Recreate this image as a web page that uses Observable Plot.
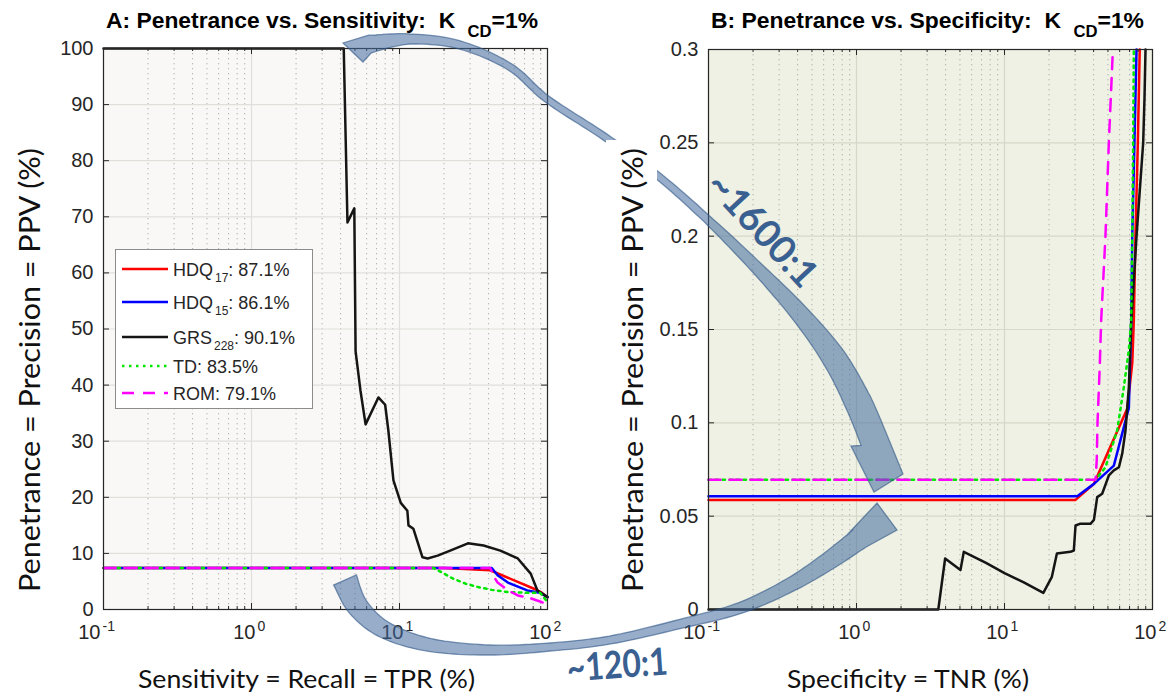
<!DOCTYPE html>
<html>
<head>
<meta charset="utf-8">
<script src="https://cdn.jsdelivr.net/npm/d3@7"></script>
<script src="https://cdn.jsdelivr.net/npm/@observablehq/plot@0.6"></script>
<style>
  body { margin: 0; background: #fff; }
  #wrap { position: relative; width: 1172px; height: 700px; overflow: hidden; background: #fff; }
</style>
</head>
<body>
<div id="wrap"></div>
<script>
// ---------------- DATA ----------------
const seriesBase  = ["HDQ", "HDQ", "GRS", "TD", "ROM"];
const seriesSub   = ["17", "15", "228", "", ""];
const seriesScore = ["87.1%", "86.1%", "90.1%", "83.5%", "79.1%"];

const xTicks   = [0.1, 1, 10, 100];
const xTickExp = ["-1", "0", "1", "2"];
const yTicksA  = [0, 10, 20, 30, 40, 50, 60, 70, 80, 90, 100];
const yTicksB  = [0, 0.05, 0.1, 0.15, 0.2, 0.25, 0.3];

// Panel A: Sensitivity (TPR %) vs PPV (%)
const a_tpr_HDQ17 = [0.1, 20, 41, 81, 90, 100];
const a_ppv_HDQ17 = [7.4, 7.4, 7.0, 3.7, 3.1, 2.2];
const a_tpr_HDQ15 = [0.1, 42, 46, 54, 73, 89, 100];
const a_ppv_HDQ15 = [7.4, 7.4, 6.1, 4.8, 3.4, 3.0, 2.2];
const a_tpr_GRS228 = [0.1, 4.2, 4.45, 4.95, 5.05, 5.45, 5.9, 7.2, 8.0, 8.4, 9.1, 10.2, 11.3, 11.5, 12.4, 14.3, 15.5, 18.1, 22, 29, 37, 48, 63, 77, 85.5, 100];
const a_ppv_GRS228 = [100, 100, 69, 71.5, 46, 39, 33, 37.8, 36.5, 32, 23, 19, 17.6, 15, 14.4, 9.3, 9.1, 9.6, 10.5, 11.8, 11.4, 10.5, 9.1, 6.4, 3.4, 2.2];
const a_tpr_TD = [0.1, 17, 20, 23, 28, 34, 42, 54, 70, 89, 100];
const a_ppv_TD = [7.4, 7.4, 6.4, 5.5, 4.6, 4.0, 3.5, 3.1, 3.0, 3.0, 1.3];
const a_tpr_ROM = [0.1, 41, 44, 46, 55, 63, 77, 92, 100];
const a_ppv_ROM = [7.4, 7.4, 5.6, 4.8, 3.3, 2.5, 2.0, 1.3, 0.7];

// Panel B: Specificity (TNR %) vs PPV (%)
const b_tnr_HDQ17 = [0.1, 30.2, 40.2, 67.5, 73, 74.8, 76.7, 79.6, 82];
const b_ppv_HDQ17 = [0.0587, 0.0587, 0.0673, 0.1075, 0.132, 0.155, 0.2, 0.25, 0.3];
const b_tnr_HDQ15 = [0.1, 31, 40.2, 54.8, 69.2, 71.8, 73, 75.5, 78];
const b_ppv_HDQ15 = [0.0607, 0.0607, 0.0673, 0.0771, 0.108, 0.155, 0.2, 0.25, 0.3];
const b_tnr_GRS228 = [0.1, 3.57, 3.97, 5.04, 5.31, 7.5, 10, 13.5, 18.3, 20.9, 22.6, 27.9, 29.4, 30.2, 32.6, 38.1, 40.2, 42.3, 45.7, 50.7, 54.8, 59.3, 62.4, 65.7, 69.2, 72, 78, 83, 86.5, 88.3, 89.7];
const b_ppv_GRS228 = [0, 0, 0.0273, 0.0211, 0.0309, 0.025, 0.0195, 0.0145, 0.0089, 0.0175, 0.030, 0.0309, 0.0316, 0.045, 0.046, 0.0459, 0.048, 0.0602, 0.062, 0.0718, 0.0745, 0.0762, 0.0834, 0.0959, 0.119, 0.155, 0.2, 0.23, 0.25, 0.274, 0.3];
const b_tnr_TD = [0.1, 41.2, 48.1, 57.7, 64, 69.2, 71.8, 73, 74, 74.8];
const b_ppv_TD = [0.0695, 0.0695, 0.0762, 0.0959, 0.119, 0.139, 0.155, 0.2, 0.25, 0.3];
const b_tnr_ROM = [0.1, 41.2, 42, 42.5, 44, 45, 48.1, 50.7, 54];
const b_ppv_ROM = [0.0695, 0.0695, 0.08, 0.1, 0.13, 0.155, 0.2, 0.25, 0.3];

// ---------------- STYLE ----------------
const seriesColor = ["#ff0000", "#0000ff", "#151515", "#00e600", "#ff00ff"];
const seriesDash  = [undefined, undefined, undefined, "2.5,4.5", "12,9"];
const frameColor = "#262626";

const toRows = (xs, ys) => xs.map((x, i) => ({x, y: ys[i]}));
const seriesA = [toRows(a_tpr_HDQ17, a_ppv_HDQ17), toRows(a_tpr_HDQ15, a_ppv_HDQ15), toRows(a_tpr_GRS228, a_ppv_GRS228), toRows(a_tpr_TD, a_ppv_TD), toRows(a_tpr_ROM, a_ppv_ROM)];
const seriesB = [toRows(b_tnr_HDQ17, b_ppv_HDQ17), toRows(b_tnr_HDQ15, b_ppv_HDQ15), toRows(b_tnr_GRS228, b_ppv_GRS228), toRows(b_tnr_TD, b_ppv_TD), toRows(b_tnr_ROM, b_ppv_ROM)];

function makePanel(cfg) {
  const {left, width, ml, mr, mt, mb, yDomain, yTicks, yFmt, bg, grid, series} = cfg;
  const H = 700;
  const innerW = width - ml - mr, innerH = H - mt - mb;
  const yPx = (yDomain[1] - yDomain[0]) / innerH;
  const xMul = px => Math.pow(10, 3 * px / innerW);
  const minor = [0.1, 1, 10].flatMap(d => d3.range(2, 10).map(k => k * d));
  const marks = [
    Plot.frame({fill: bg, stroke: "none"}),
    Plot.ruleX(minor, {x: d => d, stroke: "#b0b0b0", strokeDasharray: "1.3,3.7"}),
    Plot.ruleX(xTicks, {x: d => d, stroke: grid, strokeWidth: 1.2}),
    Plot.ruleY(yTicks, {y: d => d, stroke: grid, strokeWidth: 1.2}),
  ];
  series.forEach((s, i) => {
    marks.push(Plot.line(s, {x: "x", y: "y", stroke: seriesColor[i], strokeWidth: 2.5,
      strokeDasharray: seriesDash[i], strokeLinejoin: "round"}));
  });
  marks.push(
    Plot.frame({stroke: frameColor, strokeWidth: 1.2}),
    Plot.ruleX(xTicks, {x: d => d, y1: yDomain[0], y2: yDomain[0] + 6 * yPx, stroke: frameColor}),
    Plot.ruleX(xTicks, {x: d => d, y1: yDomain[1] - 6 * yPx, y2: yDomain[1], stroke: frameColor}),
    Plot.ruleX(minor, {x: d => d, y1: yDomain[0], y2: yDomain[0] + 3 * yPx, stroke: frameColor}),
    Plot.ruleX(minor, {x: d => d, y1: yDomain[1] - 3 * yPx, y2: yDomain[1], stroke: frameColor}),
    Plot.ruleY(yTicks, {y: d => d, x1: 0.1, x2: 0.1 * xMul(6), stroke: frameColor}),
    Plot.ruleY(yTicks, {y: d => d, x1: 100 / xMul(6), x2: 100, stroke: frameColor}),
    Plot.text(yTicks, {y: d => d, frameAnchor: "left", dx: -10, textAnchor: "end", text: yFmt, fontSize: 20})
  );
  xTicks.forEach((t, i) => {
    const e = xTickExp[i];
    const shift = e.length > 1 ? 7 : 0;
    marks.push(
      Plot.text([t], {x: d => d, frameAnchor: "bottom", dy: 29, dx: 4 - shift, textAnchor: "end", text: () => "10", fontSize: 20}),
      Plot.text([t], {x: d => d, frameAnchor: "bottom", dy: 21, dx: 6 - shift, textAnchor: "start", text: () => e, fontSize: 14})
    );
  });
  const svg = Plot.plot({
    width, height: H,
    marginLeft: ml, marginRight: mr, marginTop: mt, marginBottom: mb,
    x: {type: "log", domain: [0.1, 100], axis: null},
    y: {domain: yDomain, axis: null},
    style: {fontFamily: "'Liberation Sans', Arial, sans-serif", fontSize: "20px", color: "#262626", background: "transparent", overflow: "visible"},
    marks
  });
  svg.style.position = "absolute";
  svg.style.left = left + "px";
  svg.style.top = "0px";
  return svg;
}

const wrap = document.getElementById("wrap");
wrap.appendChild(makePanel({left: 0, width: 600, ml: 103, mr: 53, mt: 48, mb: 91,
  yDomain: [0, 100], yTicks: yTicksA, yFmt: d => String(d), bg: "#f9f8f6", grid: "#e0dfdc", series: seriesA}));
wrap.appendChild(makePanel({left: 600, width: 572, ml: 108, mr: 20, mt: 49, mb: 91,
  yDomain: [0, 0.3], yTicks: yTicksB, yFmt: d => String(+d.toFixed(2)), bg: "#eef1e3", grid: "#d6d9c9", series: seriesB}));

// ---------------- OVERLAY: titles, labels, legend, arrows ----------------
const ov = d3.select("#wrap").append("svg")
  .attr("width", 1172).attr("height", 700)
  .style("position", "absolute").style("left", "0px").style("top", "0px")
  .attr("font-family", "'Liberation Sans', Arial, sans-serif");

function title(x, len, html) {
  ov.append("text").attr("x", x).attr("y", 28).attr("font-weight", "bold").attr("font-size", 22)
    .attr("fill", "#000").attr("textLength", len).attr("lengthAdjust", "spacingAndGlyphs")
    .style("white-space", "pre").html(html);
}
title(106, 432, 'A: Penetrance vs. Sensitivity:  K<tspan dx="12" dy="9" font-size="16">CD</tspan><tspan dy="-9">=1%</tspan>');
title(711, 433, 'B: Penetrance vs. Specificity:  K<tspan dx="12" dy="9" font-size="16">CD</tspan><tspan dy="-9">=1%</tspan>');

// x labels
ov.append("text").attr("x", 138).attr("y", 688).attr("font-family", "Lato, 'Open Sans', sans-serif")
  .attr("font-size", 25).attr("fill", "#111").attr("textLength", 337).attr("lengthAdjust", "spacingAndGlyphs")
  .text("Sensitivity = Recall = TPR (%)");
ov.append("text").attr("x", 787).attr("y", 688).attr("font-family", "Lato, 'Open Sans', sans-serif")
  .attr("font-size", 25).attr("fill", "#111").attr("textLength", 242).attr("lengthAdjust", "spacingAndGlyphs")
  .text("Specificity = TNR (%)");

// legend
const legRows = [269, 302, 337, 366, 393];
ov.append("rect").attr("x", 115.5).attr("y", 249.5).attr("width", 197).attr("height", 159)
  .attr("fill", "#fff").attr("stroke", "#8c8c8c");
[0, 1, 2, 3, 4].forEach((i, k) => {
  const y = legRows[k];
  ov.append("line").attr("x1", 122).attr("x2", 168).attr("y1", y).attr("y2", y)
    .attr("stroke", seriesColor[i]).attr("stroke-width", 2.5)
    .attr("stroke-dasharray", seriesDash[i] || null);
  const sub = seriesSub[i]
    ? `<tspan dx="2" dy="6" font-size="12">${seriesSub[i]}</tspan><tspan dy="-6">: ${seriesScore[i]}</tspan>`
    : `: ${seriesScore[i]}`;
  ov.append("text").attr("x", 173).attr("y", y + 6.5).attr("font-size", 18).attr("fill", "#262626")
    .style("white-space", "pre").html(seriesBase[i] + sub);
});

// arrows (decorative annotation shapes)
function crPoint(p0, p1, p2, p3, t) {
  const t2 = t * t, t3 = t2 * t;
  return [0, 1].map(k => 0.5 * ((2 * p1[k]) + (-p0[k] + p2[k]) * t + (2 * p0[k] - 5 * p1[k] + 4 * p2[k] - p3[k]) * t2 + (-p0[k] + 3 * p1[k] - 3 * p2[k] + p3[k]) * t3));
}
function arrowPath(ctrl, widths, head, tail) {
  const pts = [], ws = [];
  const n = ctrl.length;
  for (let i = 0; i < n - 1; i++) {
    const p0 = ctrl[Math.max(i - 1, 0)], p1 = ctrl[i], p2 = ctrl[i + 1], p3 = ctrl[Math.min(i + 2, n - 1)];
    for (let s = 0; s < 12; s++) {
      const t = s / 12;
      pts.push(crPoint(p0, p1, p2, p3, t));
      ws.push(widths[i] + (widths[i + 1] - widths[i]) * t);
    }
  }
  pts.push(ctrl[n - 1]); ws.push(widths[n - 1]);
  const L = [], R = [];
  pts.forEach((p, i) => {
    const a = pts[Math.max(i - 1, 0)], b = pts[Math.min(i + 1, pts.length - 1)];
    const dx = b[0] - a[0], dy = b[1] - a[1], len = Math.hypot(dx, dy) || 1;
    const nx = -dy / len, ny = dx / len, w = ws[i] / 2;
    L.push([p[0] + nx * w, p[1] + ny * w]);
    R.push([p[0] - nx * w, p[1] - ny * w]);
  });
  const poly = [...L, ...head, ...R.reverse(), ...(tail || [])];
  return "M" + poly.map(p => p[0].toFixed(1) + "," + p[1].toFixed(1)).join("L") + "Z";
}
const arrowG = ov.append("g");
// upper arrow (~1600:1)
arrowG.append("path")
  .attr("d", arrowPath(
    [[370, 44], [410, 39], [460, 45], [510, 67], [547, 99], [605, 137], [657, 175], [707, 219], [757, 268], [800, 314], [834, 358], [858, 402], [874, 440]],
    [18, 10, 8, 7, 7, 7, 7, 8, 12, 18, 24, 27, 28],
    [[851, 446], [874, 492], [903, 474]],
    [[343, 43], [363, 62]]))
  .attr("fill", "#416a9e").attr("fill-opacity", 0.55)
  .attr("stroke", "#2f5585").attr("stroke-opacity", 0.6).attr("stroke-width", 1.3);
// lower arrow (~120:1)
arrowG.append("path")
  .attr("d", arrowPath(
    [[345, 580], [358, 607], [385, 630], [430, 645], [490, 650], [550, 647], [610, 640], [680, 624], [740, 608], [790, 585], [830, 560], [860, 538]],
    [25, 21, 17, 13, 10, 8, 8, 9, 11, 14, 18, 22],
    [[897, 530], [877, 503], [846, 536]],
    null))
  .attr("fill", "#416a9e").attr("fill-opacity", 0.55)
  .attr("stroke", "#2f5585").attr("stroke-opacity", 0.6).attr("stroke-width", 1.3);

// y labels (B label sits on a white box that hides the arrow behind it)
ov.append("rect").attr("x", 606).attr("y", 140).attr("width", 51).attr("height", 460).attr("fill", "#fff");
function ylab(x) {
  ov.append("text").attr("transform", `translate(${x},370) rotate(-90)`)
    .attr("text-anchor", "middle").attr("dominant-baseline", "central")
    .attr("font-family", "Lato, 'Open Sans', sans-serif").attr("font-size", 29).attr("fill", "#111")
    .attr("textLength", 444).attr("lengthAdjust", "spacingAndGlyphs")
    .text("Penetrance = Precision = PPV (%)");
}
ylab(28);
ylab(631);

// ratio annotations
ov.append("text").attr("transform", "translate(764,228) rotate(47)")
  .attr("text-anchor", "middle").attr("dominant-baseline", "central")
  .attr("font-family", "Lato, 'Open Sans', sans-serif").attr("font-weight", "bold")
  .attr("font-size", 38).attr("fill", "#3a6091")
  .attr("textLength", 142).attr("lengthAdjust", "spacingAndGlyphs").text("~1600:1");
ov.append("text").attr("transform", "translate(617,663) rotate(-4)")
  .attr("text-anchor", "middle").attr("dominant-baseline", "central")
  .attr("font-family", "Lato, 'Open Sans', sans-serif").attr("font-weight", "bold")
  .attr("font-size", 38).attr("fill", "#3a6091")
  .attr("textLength", 101).attr("lengthAdjust", "spacingAndGlyphs").text("~120:1");
</script>
</body>
</html>
